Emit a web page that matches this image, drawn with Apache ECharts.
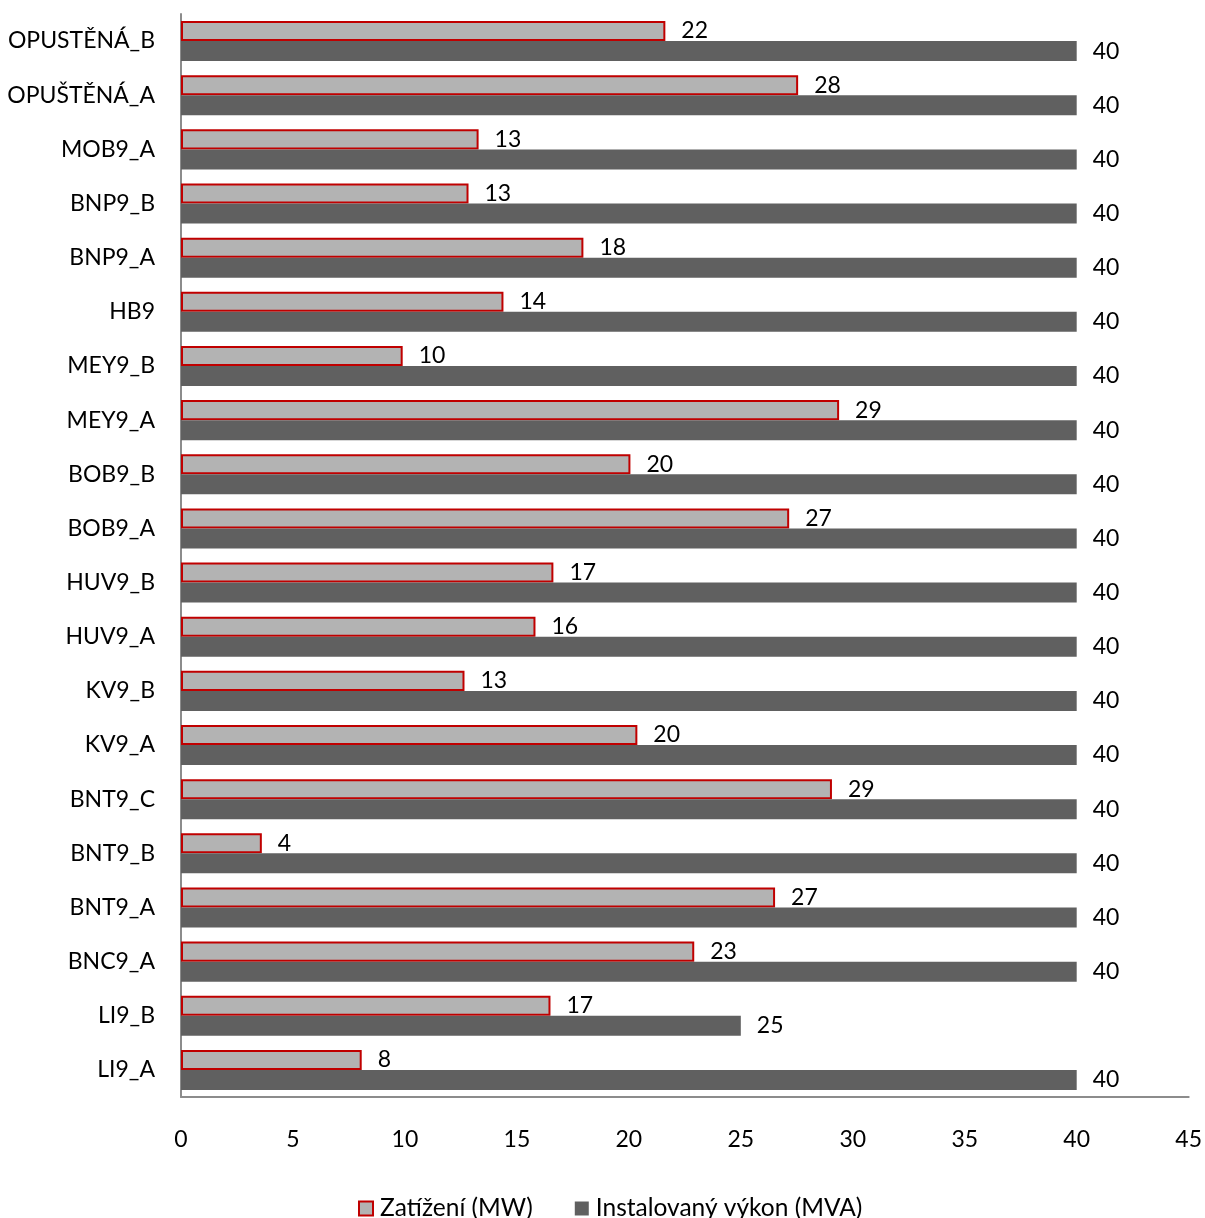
<!DOCTYPE html>
<html><head><meta charset="utf-8">
<script src="https://cdn.jsdelivr.net/npm/echarts@6/dist/echarts.min.js"></script>
<style>html,body{margin:0;padding:0;background:#fff}#c{width:1205px;height:1218px}</style>
</head><body><div id="c"></div>
<script>
const categories = ['LI9_A','LI9_B','BNC9_A','BNT9_A','BNT9_B','BNT9_C','KV9_A','KV9_B','HUV9_A','HUV9_B','BOB9_A','BOB9_B','MEY9_A','MEY9_B','HB9','BNP9_A','BNP9_B','MOB9_A','OPUŠTĚNÁ_A','OPUSTĚNÁ_B'];
const zatizeni = [8.07,16.5,22.92,26.53,3.61,29.07,20.38,12.66,15.83,16.63,27.16,20.07,29.39,9.9,14.4,17.97,12.84,13.29,27.56,21.63];
const instalovany = [40,25,40,40,40,40,40,40,40,40,40,40,40,40,40,40,40,40,40,40];
const xTicks = {min:0, max:45, interval:5};
const FONT = 'Lato';
const FS = 23;
const chart = echarts.init(document.getElementById('c'));
const lbl = {show:true, position:'right', distance:16, color:'#000', fontSize:FS, fontFamily:FONT, formatter:p=>Math.round(p.value)};
chart.setOption({
  animation:false,
  textStyle:{fontFamily:FONT},
  grid:{left:181, right:16, top:14, bottom:121, containLabel:false},
  xAxis:{type:'value', min:xTicks.min, max:xTicks.max, interval:xTicks.interval,
    axisLine:{show:true, lineStyle:{color:'#8c8c8c', width:2}}, axisTick:{show:false}, splitLine:{show:false},
    axisLabel:{color:'#000', fontSize:FS, fontFamily:FONT, margin:31}},
  yAxis:{type:'category', data:categories,
    axisLine:{show:true, lineStyle:{color:'#8c8c8c', width:2}}, axisTick:{show:false},
    axisLabel:{color:'#000', fontSize:FS, fontFamily:FONT, margin:26}},
  legend:{top:1191, left:353, itemWidth:14, itemHeight:14, itemGap:42,
    textStyle:{color:'#000', fontSize:24.5, fontFamily:FONT, padding:[0,0,0,2]},
    data:[{name:'Zatížení (MW)', icon:'rect'},{name:'Instalovaný výkon (MVA)', icon:'rect'}]},
  series:[
    {name:'Zatížení (MW)', type:'bar', data:zatizeni, barGap:'0%', barCategoryGap:'26%',
      itemStyle:{color:'#b3b3b3', borderColor:'#c00000', borderWidth:2}, label:lbl},
    {name:'Instalovaný výkon (MVA)', type:'bar', data:instalovany, barGap:'0%', barCategoryGap:'26%',
      itemStyle:{color:'#606060'}, label:lbl}
  ]
});
</script></body></html>
